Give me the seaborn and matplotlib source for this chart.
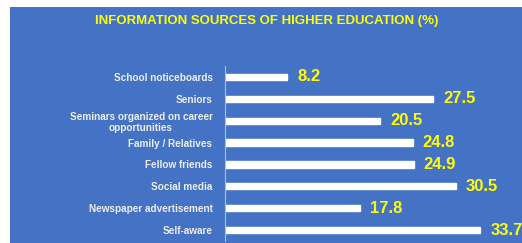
import matplotlib
matplotlib.use("Agg")
import matplotlib.pyplot as plt
import seaborn as sns
import pandas as pd
from matplotlib.patches import Rectangle

sns.set_style("white")
plt.rcParams["font.family"] = ["Liberation Sans", "DejaVu Sans"]

sources = [
    "School noticeboards",
    "Seniors",
    "Seminars organized on career\nopportunities",
    "Family / Relatives",
    "Fellow friends",
    "Social media",
    "Newspaper advertisement",
    "Self-aware",
]
percent = [8.2, 27.5, 20.5, 24.8, 24.9, 30.5, 17.8, 33.7]

blue = "#4472C4"
yellow = "#FFFF00"

df = pd.DataFrame({"source": sources, "percent": percent})

fig = plt.figure(figsize=(5.22, 2.43), dpi=100, facecolor="white")
fig.add_artist(
    Rectangle((10 / 522, 0), 1 - 10 / 522, 1 - 7 / 243,
              transform=fig.transFigure, facecolor=blue, edgecolor="none", zorder=-10)
)

ax = fig.add_axes([225 / 522, 2 / 243, 288 / 522, 175 / 243])
ax.set_facecolor("none")

sns.barplot(data=df, y="source", x="percent", orient="h", color="white",
            saturation=1, width=0.28, ax=ax)

for i, v in enumerate(percent):
    ax.text(v + 1.3, i, f"{v}", color=yellow, fontsize=12, fontweight="bold",
            va="center", ha="left", clip_on=False)

ax.set_xlim(0, 38)
ax.set_ylim(7.5, -0.5)
ax.set_xlabel("")
ax.set_ylabel("")
ax.set_xticks([])
ax.tick_params(axis="y", length=0, pad=9, labelsize=7.2, labelcolor="#EDEDED")
for lbl in ax.get_yticklabels():
    lbl.set_fontweight("bold")
    lbl.set_multialignment("center")

for s in ["top", "right", "bottom"]:
    ax.spines[s].set_visible(False)
ax.spines["left"].set_color("#A9BFE6")
ax.spines["left"].set_linewidth(0.8)

fig.text(267 / 522, 1 - 21 / 243, "INFORMATION SOURCES OF HIGHER EDUCATION (%)",
         color=yellow, fontsize=9.5, fontweight="bold", ha="center", va="center")

fig.savefig("out.png", dpi=100, facecolor="white")
